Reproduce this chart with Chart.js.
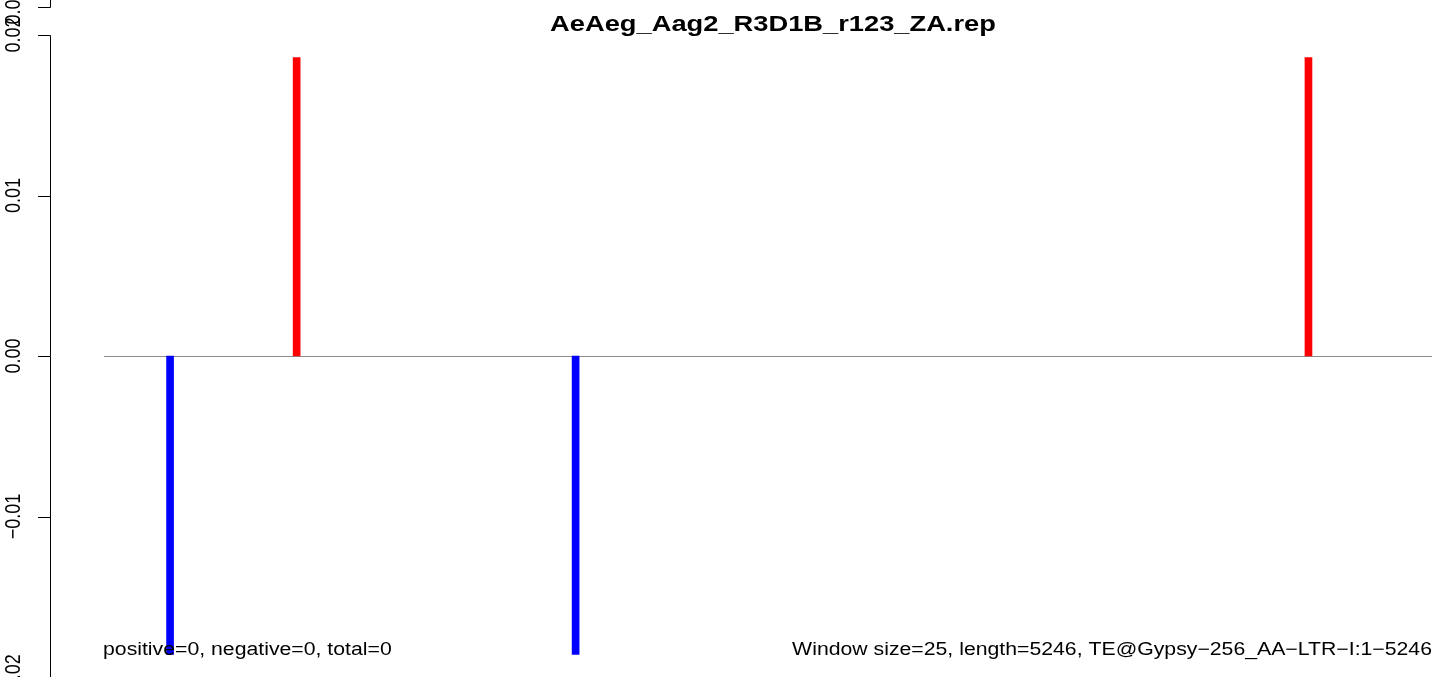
<!DOCTYPE html>
<html>
<head>
<meta charset="utf-8">
<script src="https://cdn.jsdelivr.net/npm/chart.js@4/dist/chart.umd.min.js"></script>
<style>
html,body{margin:0;padding:0;background:#fff;overflow:hidden;}
canvas{display:block;}
</style>
</head>
<body>
<canvas id="c" width="1444" height="677"></canvas>
<script>
// ---- data ----
const titleText = "AeAeg_Aag2_R3D1B_r123_ZA.rep";
const leftNote = "positive=0, negative=0, total=0";
const rightNote = "Window size=25, length=5246, TE@Gypsy\u2212256_AA\u2212LTR\u2212I:1\u22125246";
const seqLength = 5246;
const positions = [261, 761, 1863, 4758];
const values = [-0.0186, 0.0186, -0.0186, 0.0186];
const yTicks = [-0.02, -0.01, 0, 0.01, 0.02];
const yTickLabels = ["\u22120.02", "\u22120.01", "0.00", "0.01", "0.02"];
const yMin = -0.02, yMax = 0.02;

const FONT = "'Liberation Sans', Arial, Helvetica, sans-serif";

function stretchedText(ctx, txt, x, y, font, sx, align) {
  ctx.save();
  ctx.font = font;
  ctx.textAlign = align;
  ctx.textBaseline = "alphabetic";
  ctx.translate(x, y);
  ctx.scale(sx, 1);
  ctx.fillText(txt, 0, 0);
  ctx.restore();
}

const decor = {
  id: "decor",
  beforeDatasetsDraw(chart) {
    const ctx = chart.ctx, a = chart.chartArea, ys = chart.scales.y;
    const y0 = Math.round(ys.getPixelForValue(0)) + 0.5;
    ctx.save();
    ctx.strokeStyle = "#8c8c8c";
    ctx.lineWidth = 1.2;
    ctx.beginPath();
    ctx.moveTo(a.left, y0);
    ctx.lineTo(a.right, y0);
    ctx.stroke();
    ctx.restore();
  },
  afterDraw(chart) {
    const ctx = chart.ctx, ys = chart.scales.y;
    const axX = 50.5, tickL = 38;
    ctx.save();
    ctx.strokeStyle = "#000";
    ctx.fillStyle = "#000";
    ctx.lineWidth = 1;
    // main axis
    const yTop = ys.getPixelForValue(yMax);
    ctx.beginPath();
    ctx.moveTo(axX, Math.round(yTop) + 0.5);
    ctx.lineTo(axX, chart.height + 2);
    ctx.stroke();
    // fragment of an axis above
    ctx.beginPath();
    ctx.moveTo(axX, -2);
    ctx.lineTo(axX, 7.5);
    ctx.lineTo(tickL, 7.5);
    ctx.stroke();
    yTicks.forEach((v, i) => {
      const py = Math.round(ys.getPixelForValue(v)) + 0.5;
      ctx.beginPath();
      ctx.moveTo(tickL, py);
      ctx.lineTo(axX, py);
      ctx.stroke();
    });
    // rotated labels
    const drawRot = (txt, py) => {
      ctx.save();
      ctx.translate(20, py);
      ctx.rotate(-Math.PI / 2);
      ctx.scale(1, 1.18);
      ctx.font = "18px " + FONT;
      ctx.textAlign = "center";
      ctx.textBaseline = "alphabetic";
      ctx.fillText(txt, 0, 0);
      ctx.restore();
    };
    drawRot("0.02", 7);
    yTicks.forEach((v, i) => drawRot(yTickLabels[i], ys.getPixelForValue(v)));
    // title
    stretchedText(ctx, titleText, 773, 31, "bold 22px " + FONT, 1.24, "center");
    // notes
    stretchedText(ctx, leftNote, 103, 655, "18px " + FONT, 1.18, "left");
    stretchedText(ctx, rightNote, 1432, 655, "18px " + FONT, 1.18, "right");
    ctx.restore();
  }
};

new Chart(document.getElementById("c"), {
  type: "bar",
  data: {
    datasets: [{
      data: positions.map((p, i) => ({ x: p, y: values[i] })),
      backgroundColor: values.map(v => v >= 0 ? "#ff0000" : "#0000ff"),
      borderWidth: 0,
      barThickness: 7
    }]
  },
  options: {
    responsive: false,
    animation: false,
    devicePixelRatio: 1,
    layout: { padding: { left: 104, right: 12, top: 35, bottom: 0 } },
    plugins: { legend: { display: false }, tooltip: { enabled: false }, title: { display: false } },
    scales: {
      x: { type: "linear", min: 0, max: seqLength, offset: false, display: false, grid: { offset: false } },
      y: { type: "linear", min: yMin, max: yMax, display: false }
    }
  },
  plugins: [decor]
});
</script>
</body>
</html>
